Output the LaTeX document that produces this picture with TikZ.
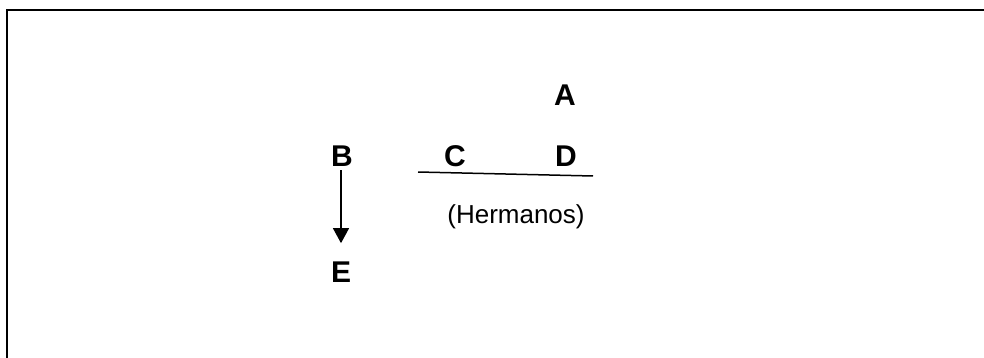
\documentclass[tikz,border=0pt]{standalone}
\usepackage{fontspec}
\setmainfont{Liberation Sans}
\usetikzlibrary{arrows.meta}
\begin{document}
\begin{tikzpicture}[x=1pt,y=-1pt,
  letter/.style={font=\fontsize{30}{30}\selectfont\bfseries, inner sep=0pt, anchor=base, text depth=0pt},
  note/.style={font=\fontsize{26}{26}\selectfont, inner sep=0pt, anchor=base, text depth=0pt},
  frame/.style={line width=2pt, black}]
  \useasboundingbox (0,0) rectangle (984,358);
  % open frame: top and left edges
  \draw[frame] (7,358) -- (7,10) -- (984,10);
  % letters
  \node[letter] (A) at (565,106) {A};
  \node[letter] (B) at (342,167) {B};
  \node[letter] (C) at (455,167) {C};
  \node[letter] (D) at (566,167) {D};
  \node[letter] (E) at (341,282) {E};
  \node[note] (H) at (516,223) {(Hermanos)};
  % sibling line under C and D
  \coordinate (s1) at (418,172);
  \coordinate (s2) at (593,176);
  \draw[line width=1.5pt] (s1) -- (s2);
  % descent from B to E
  \draw[line width=1.2pt, -{Triangle[length=15pt,width=16pt]}, shorten <=3pt, shorten >=18pt]
    (B.south -| E.south) -- (E.north);
\end{tikzpicture}
\end{document}
